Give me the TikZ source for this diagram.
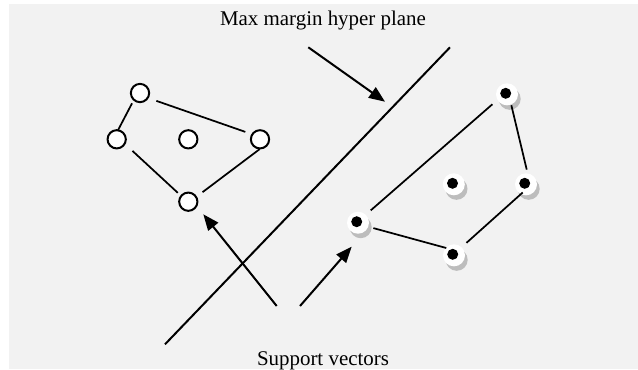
\documentclass[tikz,border=0pt]{standalone}
\usepackage{fontspec}
\setmainfont{Liberation Serif}
\usetikzlibrary{arrows.meta}
\definecolor{bg}{HTML}{F2F2F2}
\definecolor{shad}{HTML}{BDBDBD}
\begin{document}
\begin{tikzpicture}[x=0.75pt,y=-0.75pt,
  opencirc/.style={circle,draw=black,fill=white,line width=1.5pt,inner sep=0pt,outer sep=0pt,minimum size=13.7pt},
  dotv/.style={circle,fill=black,inner sep=0pt,outer sep=0pt,minimum size=8.25pt},
  edge/.style={draw=black,line width=1.3pt},
  arr/.style={-{Triangle[length=12pt,width=9.5pt]},line width=1.5pt},
  lbl/.style={font=\fontsize{15.7pt}{18pt}\selectfont,anchor=base,inner sep=0pt}]
\useasboundingbox (0,0) rectangle (638,369);
\fill[bg] (9,4) rectangle (638,369);

% labels
\node[lbl] (title) at (323,25) {Max margin hyper plane};
\node[lbl] (sv) at (323,365) {Support vectors};

% hyperplane
\coordinate (h1) at (165,344.3);
\coordinate (h2) at (450,47.3);
\draw[line width=1.5pt] (h1) -- (h2);

% left class (open circles)
\node[opencirc] (lt) at (140,93) {};
\node[opencirc] (ll) at (116.7,139.3) {};
\node[opencirc] (lm) at (188.3,139.3) {};
\node[opencirc] (lr) at (260,139.3) {};
\node[opencirc] (lb) at (188.3,201.7) {};
\draw[edge,shorten <=3pt] (lt.-132) -- (ll.82);
\draw[edge,shorten <=6.8pt,shorten >=5.6pt] (lt.-32) -- (lr.147);
\draw[edge,shorten <=7.9pt,shorten >=3.5pt] (ll.-29) -- (lb.141);
\draw[edge,shorten <=0.9pt,shorten >=6pt] (lr.-86) -- (lb.31);

% right class (filled dots with shadow)
\coordinate (pt) at (505.7,93.3);
\coordinate (pm) at (452.5,183.3);
\coordinate (pr) at (524.7,183.3);
\coordinate (pl) at (356.7,221.7);
\coordinate (pb) at (452.7,254.3);
\foreach \c in {pt,pm,pr,pl,pb}{
  \fill[shad] ([shift={(4,5.5)}]\c) circle (8.25pt);
  \fill[white] ([shift={(1.3,1)}]\c) circle (8.25pt);
}
\node[dotv] (rt) at (pt) {};
\node[dotv] (rm) at (pm) {};
\node[dotv] (rr) at (pr) {};
\node[dotv] (rl) at (pl) {};
\node[dotv] (rb) at (pb) {};
\draw[edge,shorten <=6.1pt,shorten >=8.2pt] (rt.-47) -- (rr.34);
\draw[edge,shorten <=8.8pt,shorten >=9.4pt] (rt.-144.5) -- (rl.34);
\draw[edge,shorten <=9.4pt,shorten >=3.4pt] (rl.-34) -- (rb.112);
\draw[edge,shorten <=9.3pt,shorten >=5.5pt] (rb.35) -- (rr.-51);

% arrows
\coordinate (a1s) at (308.3,47.3);
\coordinate (a1e) at (385,101.7);
\coordinate (a2s) at (276.7,306);
\coordinate (a2e) at (203.3,214.3);
\coordinate (a3s) at (300,306);
\coordinate (a3e) at (351.7,246.7);
\draw[arr] (a1s) -- (a1e);
\draw[arr] (a2s) -- (a2e);
\draw[arr] (a3s) -- (a3e);
\end{tikzpicture}
\end{document}
